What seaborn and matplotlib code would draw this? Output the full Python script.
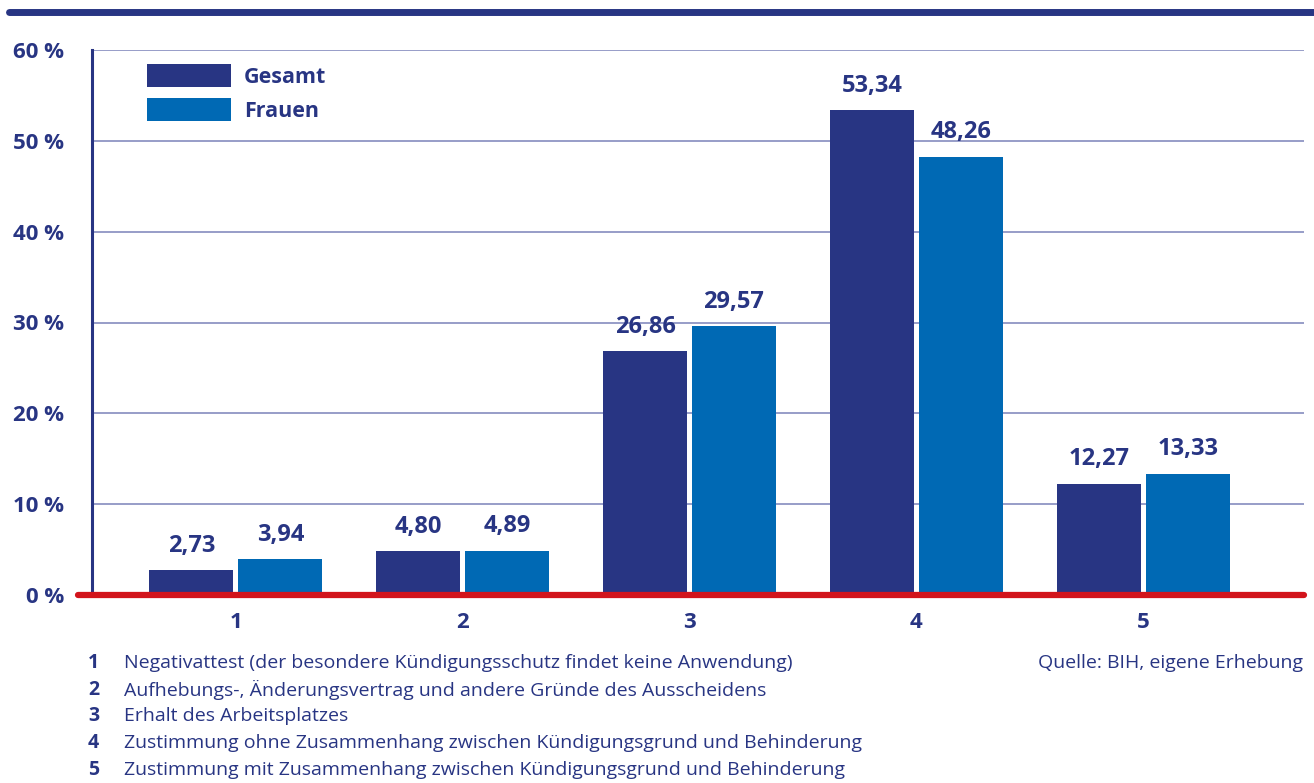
import matplotlib
matplotlib.use("Agg")
import matplotlib.pyplot as plt
from matplotlib.lines import Line2D
import seaborn as sns
import pandas as pd

# Categories and shares (percent) per group
categories = ["1", "2", "3", "4", "5"]
gesamt = [2.73, 4.80, 26.86, 53.34, 12.27]
frauen = [3.94, 4.89, 29.57, 48.26, 13.33]
series_names = ["Gesamt", "Frauen"]
y_ticks = [0, 10, 20, 30, 40, 50, 60]
y_tick_labels = ["0 %", "10 %", "20 %", "30 %", "40 %", "50 %", "60 %"]
footnotes = [
    ("1", "Negativattest (der besondere Kündigungsschutz findet keine Anwendung)"),
    ("2", "Aufhebungs-, Änderungsvertrag und andere Gründe des Ausscheidens"),
    ("3", "Erhalt des Arbeitsplatzes"),
    ("4", "Zustimmung ohne Zusammenhang zwischen Kündigungsgrund und Behinderung"),
    ("5", "Zustimmung mit Zusammenhang zwischen Kündigungsgrund und Behinderung"),
]
source = "Quelle: BIH, eigene Erhebung"

NAVY = "#283583"
BLUE = "#0069b4"
RED = "#d2141c"
GRID = "#8f95c4"

df = pd.DataFrame({
    "Kategorie": categories * 2,
    "Anteil": gesamt + frauen,
    "Gruppe": [series_names[0]] * len(categories) + [series_names[1]] * len(categories),
})

sns.set_style("white")
plt.rcParams["font.family"] = ["Open Sans", "DejaVu Sans"]

W, H = 1314, 783
fig = plt.figure(figsize=(W / 100, H / 100), dpi=100)
ax = fig.add_axes([92 / W, (H - 595) / H, (1304 - 92) / W, (595 - 50) / H])

sns.barplot(data=df, x="Kategorie", y="Anteil", hue="Gruppe",
            palette=[NAVY, BLUE], width=0.784, gap=0.056,
            saturation=1, linewidth=0, edgecolor="none", ax=ax, zorder=3)

ax.set_xlim(-0.634, 4.709)
ax.set_ylim(0, 60)
ax.set_xlabel("")
ax.set_ylabel("")

# Horizontal grid
ax.set_yticks(y_ticks)
ax.set_yticklabels(y_tick_labels)
ax.yaxis.grid(True, color=GRID, linewidth=1.3, zorder=0)
ax.set_axisbelow(True)

for s in ["top", "right", "bottom"]:
    ax.spines[s].set_visible(False)
ax.spines["left"].set_color(NAVY)
ax.spines["left"].set_linewidth(2.2)

ax.tick_params(axis="y", length=10, width=2, color=NAVY, direction="out",
               labelsize=16, labelcolor=NAVY, pad=10)
ax.tick_params(axis="x", length=0, labelsize=16, labelcolor=NAVY, pad=12)
for t in ax.get_yticklabels() + ax.get_xticklabels():
    t.set_fontweight("bold")

# Red baseline
ax.axhline(0, xmin=-14 / 1212, xmax=1, color=RED, linewidth=4.5,
           clip_on=False, zorder=4)

# Value labels with comma decimals
for cont, vals in zip(ax.containers, [gesamt, frauen]):
    ax.bar_label(cont, labels=[f"{v:.2f}".replace(".", ",") for v in vals],
                 padding=9, fontsize=17, fontweight="bold", color=NAVY)

# Legend
handles, labels = ax.get_legend_handles_labels()
leg = ax.legend(handles, labels, loc="upper left",
                bbox_to_anchor=((147 - 92) / 1212, (595 - 64) / 545),
                frameon=False, fontsize=15.5, handlelength=3.9, handleheight=1.25,
                handletextpad=0.6, labelspacing=0.5, borderpad=0,
                borderaxespad=0)
for t in leg.get_texts():
    t.set_color(NAVY)
    t.set_fontweight("bold")

# Top rule
fig.add_artist(Line2D([9 / W, 1], [1 - 12 / H, 1 - 12 / H],
                      transform=fig.transFigure, color=NAVY, linewidth=5))

# Footnotes
y0 = 663
for i, (num, txt) in enumerate(footnotes):
    y = 1 - (y0 + i * 26.7) / H
    fig.text(88 / W, y, num, fontsize=14, fontweight="bold", color=NAVY,
             va="center", ha="left")
    fig.text(124 / W, y, txt, fontsize=14, color=NAVY, va="center", ha="left")
fig.text(1303 / W, 1 - y0 / H, source, fontsize=14, color=NAVY,
         va="center", ha="right")

fig.savefig("out.png", dpi=100)
